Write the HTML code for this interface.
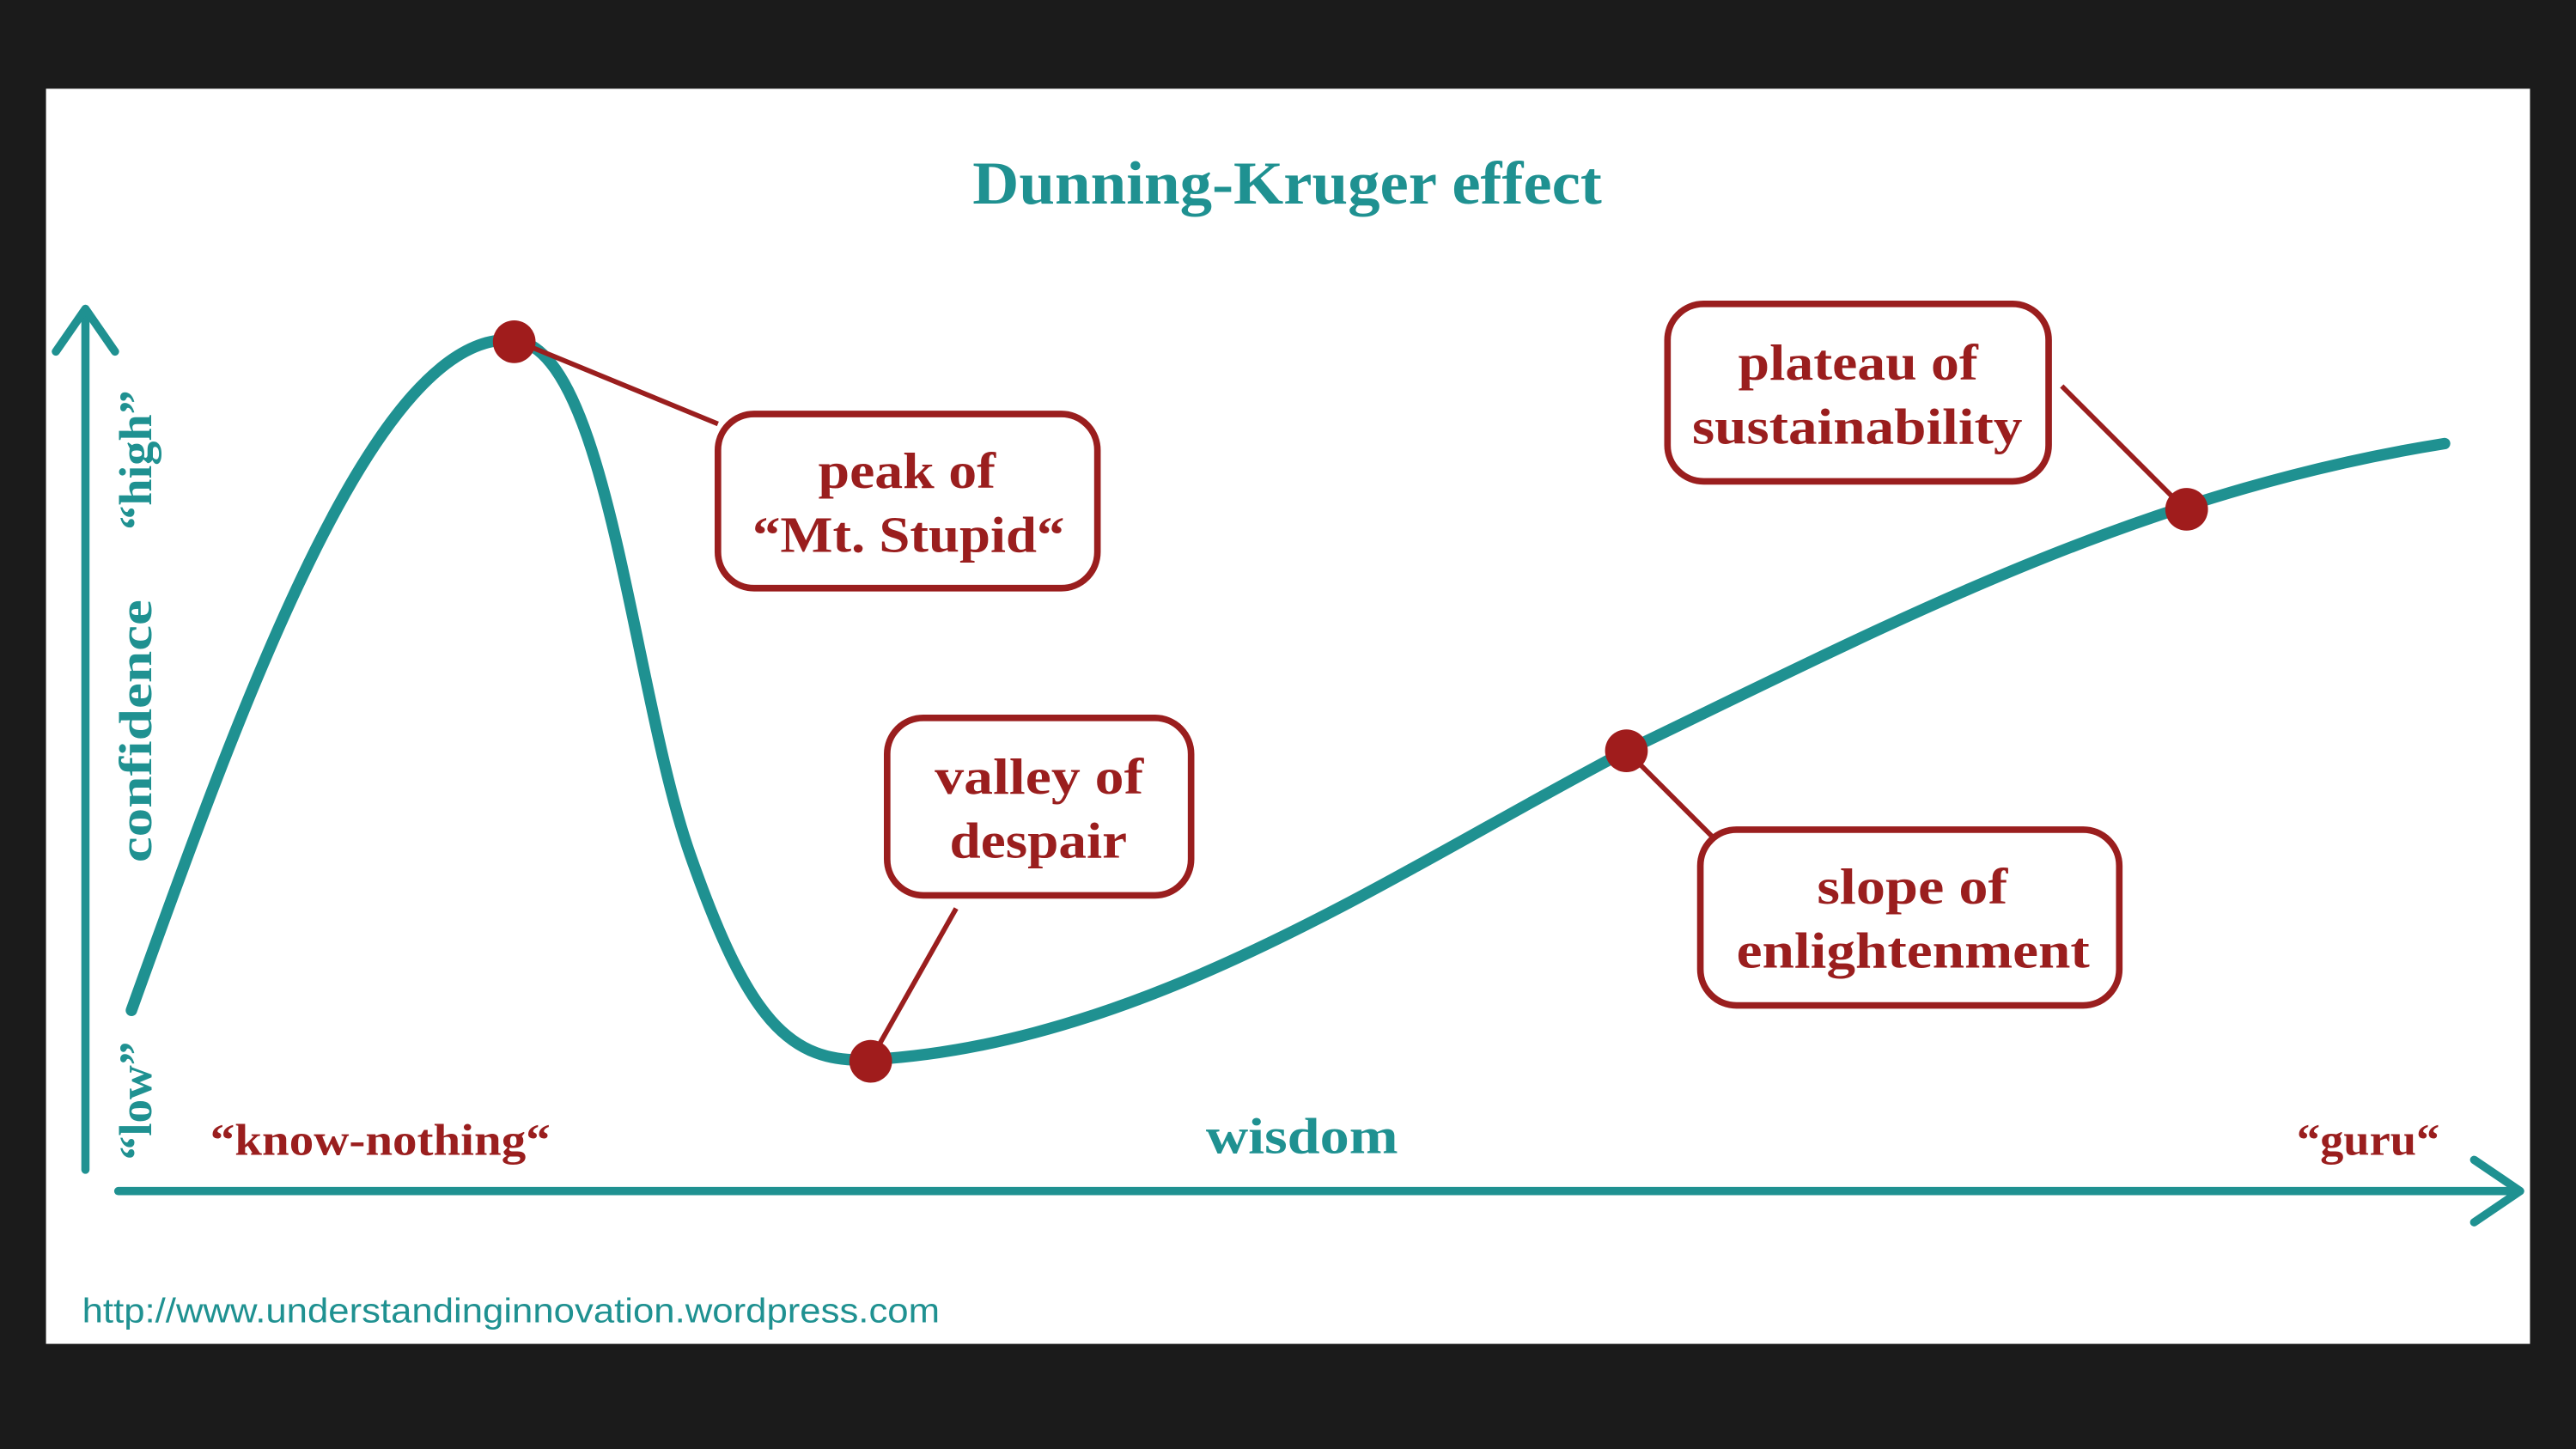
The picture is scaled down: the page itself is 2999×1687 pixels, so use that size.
<!DOCTYPE html>
<html><head><meta charset="utf-8"><style>
html,body{margin:0;padding:0;background:#1b1b1b;}
svg{display:block;}
</style></head><body>
<svg width="2999" height="1687" viewBox="0 0 1568 882" preserveAspectRatio="none" xmlns="http://www.w3.org/2000/svg">
<rect x="0" y="0" width="1568" height="882" fill="#1b1b1b"/>
<rect x="28" y="54" width="1512" height="764" fill="#ffffff"/>
<g font-family="'Liberation Serif', serif" font-weight="bold">
<text x="592" y="124" textLength="383" lengthAdjust="spacingAndGlyphs" font-size="37" fill="#1f9191">Dunning-Kruger effect</text>
</g>
<g stroke="#1f9191" fill="none" stroke-linecap="round" stroke-linejoin="round">
<path d="M52,712 L52,192" stroke-width="5"/>
<path d="M34,214 L52,188 L70,214" stroke-width="5"/>
<path d="M72,725 L1530,725" stroke-width="5"/>
<path d="M1506,706 L1534,725 L1506,744" stroke-width="5"/>
<path d="M80,615 C150,420 230,200 313,207 C370,212 385,420 420,520 C455,620 480,648 530,645 C700,635 850,530 990,457 C1150,380 1300,300 1488,270" stroke-width="7"/>
</g>
<g stroke="#9a1e1e" stroke-width="3" fill="none">
<line x1="313" y1="207" x2="437" y2="258"/>
<line x1="530" y1="645" x2="582" y2="553"/>
<line x1="1255" y1="235" x2="1330" y2="310"/>
<line x1="990" y1="457" x2="1045" y2="512"/>
</g>
<g fill="#a01c1c">
<circle cx="313" cy="208" r="13"/>
<circle cx="530" cy="646" r="13"/>
<circle cx="990" cy="457" r="13"/>
<circle cx="1331" cy="310" r="13"/>
</g>
<g fill="#fff" stroke="#9a1e1e" stroke-width="4">
<rect x="437" y="252" width="231" height="106" rx="22"/>
<rect x="540" y="437" width="185" height="108" rx="22"/>
<rect x="1015" y="185" width="232" height="108" rx="22"/>
<rect x="1035" y="505" width="255" height="107" rx="22"/>
</g>
<g font-family="'Liberation Serif', serif" font-weight="bold" font-size="31" fill="#9a1e1e" lengthAdjust="spacingAndGlyphs">
<text x="498" y="297" textLength="108" lengthAdjust="spacingAndGlyphs">peak of</text>
<text x="458" y="336" textLength="190" lengthAdjust="spacingAndGlyphs">“Mt. Stupid“</text>
<text x="569" y="483" textLength="127" lengthAdjust="spacingAndGlyphs">valley of</text>
<text x="578" y="522" textLength="108" lengthAdjust="spacingAndGlyphs">despair</text>
<text x="1058" y="231" textLength="146" lengthAdjust="spacingAndGlyphs">plateau of</text>
<text x="1030" y="270" textLength="201" lengthAdjust="spacingAndGlyphs">sustainability</text>
<text x="1106" y="550" textLength="116" lengthAdjust="spacingAndGlyphs">slope of</text>
<text x="1057" y="589" textLength="215" lengthAdjust="spacingAndGlyphs">enlightenment</text>
</g>
<g font-family="'Liberation Serif', serif" font-weight="bold" font-size="28" fill="#1f9191">
<text transform="translate(92,445) rotate(-90)" text-anchor="middle" textLength="160" lengthAdjust="spacingAndGlyphs">confidence</text>
<text transform="translate(92,280) rotate(-90)" text-anchor="middle" textLength="85" lengthAdjust="spacingAndGlyphs">“high”</text>
<text transform="translate(92,670) rotate(-90)" text-anchor="middle" textLength="72" lengthAdjust="spacingAndGlyphs">“low”</text>
</g>
<g font-family="'Liberation Serif', serif" font-weight="bold" fill="#9a1e1e" font-size="27">
<text x="128" y="703" textLength="207" lengthAdjust="spacingAndGlyphs">“know-nothing“</text>
<text x="1398" y="703" textLength="87" lengthAdjust="spacingAndGlyphs">“guru“</text>
</g>
<text x="734" y="702" textLength="117" lengthAdjust="spacingAndGlyphs" font-family="'Liberation Serif', serif" font-weight="bold" font-size="31" fill="#1f9191">wisdom</text>
<text x="50" y="805" textLength="522" lengthAdjust="spacingAndGlyphs" font-family="'Liberation Sans', sans-serif" font-size="21" fill="#1f9191">http://www.understandinginnovation.wordpress.com</text>
</svg>
</body></html>
